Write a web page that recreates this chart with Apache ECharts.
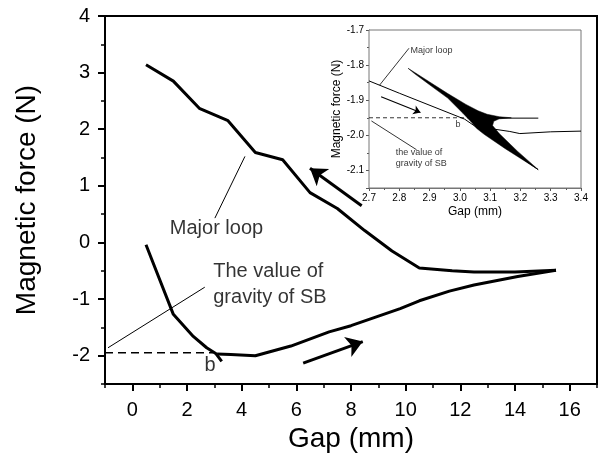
<!DOCTYPE html>
<html>
<head>
<meta charset="utf-8">
<script src="https://cdn.jsdelivr.net/npm/echarts@6/dist/echarts.min.js"></script>
<style>html,body{margin:0;padding:0;background:#fff}#c{width:600px;height:464px}</style>
</head>
<body>
<div id="c"></div>
<script>
// ---------- main chart data ----------
var upperX = [0.5, 1.5, 2.45, 3.5, 4.5, 5.5, 6.5, 7.5, 8.5, 9.5, 10.5, 11.7, 12.5, 14.0, 15.5];
var upperY = [3.14, 2.85, 2.37, 2.15, 1.59, 1.46, 0.88, 0.6, 0.21, -0.15, -0.45, -0.5, -0.52, -0.52, -0.49];
var lowerX = [0.5, 1.5, 2.23, 2.72, 3.05, 3.27];
var lowerY = [-0.04, -1.27, -1.66, -1.86, -1.96, -2.1];
var lower2X = [3.1, 3.6, 4.5, 5.8, 7.2, 8.0, 9.8, 10.5, 11.6, 12.5, 14.1, 15.5];
var lower2Y = [-1.97, -1.98, -2.0, -1.83, -1.58, -1.47, -1.17, -1.03, -0.86, -0.75, -0.6, -0.49];
var gravX = [-1, 2.95];
var gravY = [-1.95, -1.95];
var majPtrX = [4.12, 3.02];
var majPtrY = [1.52, 0.43];
var gravPtrX = [-0.89, 2.65];
var gravPtrY = [-1.86, -0.79];
var arrowUp = [[8.39, 0.65], [6.5, 1.31]];
var arrowDown = [[6.25, -2.13], [8.43, -1.75]];
var mainTexts = ['Major loop', 'The value of', 'gravity of SB', 'b'];
var mainTextX = [1.37, 2.96, 2.96, 2.84];
var mainTextY = [0.24, -0.51, -0.98, -2.175];

// ---------- inset data ----------
var insMajX = [2.7, 2.8, 3.016, 3.259];
var insMajY = [-1.845, -1.88, -1.954, -2.098];
var bandX = [2.829, 2.90, 2.96, 3.02, 3.06, 3.09, 3.13, 3.17, 3.13, 3.112, 3.108, 3.13, 3.19, 3.258, 3.23, 3.15, 3.08, 3.055, 3.04, 3.01, 2.96, 2.90, 2.85, 2.829];
var bandY = [-1.809, -1.848, -1.881, -1.912, -1.930, -1.940, -1.947, -1.950, -1.953, -1.960, -1.972, -1.995, -2.045, -2.097, -2.082, -2.038, -1.997, -1.980, -1.964, -1.937, -1.894, -1.856, -1.824, -1.809];
var convX = [3.12, 3.259];
var convY = [-1.951, -1.951];
var branchX = [3.11, 3.165, 3.198, 3.3, 3.4];
var branchY = [-1.982, -1.989, -1.995, -1.99, -1.988];
var insGravX = [2.7, 3.03];
var insGravY = [-1.95, -1.95];
var insMajPtrX = [2.735, 2.832];
var insMajPtrY = [-1.857, -1.752];
var insGravPtrX = [2.708, 2.857];
var insGravPtrY = [-1.959, -2.041];
var insArrow = [[2.74, -1.89], [2.87, -1.935]];
var insTexts = ['Major loop', 'the value of', 'gravity of SB', 'b'];
var insTextX = [2.837, 2.788, 2.788, 2.994];
var insTextY = [-1.759, -2.049, -2.080, -1.970];

var FONT = "'Liberation Sans', Arial, sans-serif";

function zip(xs, ys) { return xs.map(function (x, i) { return [x, ys[i]]; }); }
function line(xs, ys, xi, yi, w, extra) {
  var s = {
    type: 'line', xAxisIndex: xi, yAxisIndex: yi, data: zip(xs, ys),
    showSymbol: false, symbol: 'none', silent: true, animation: false,
    lineStyle: { color: '#000', width: w }
  };
  if (extra) for (var k in extra) s.lineStyle[k] = extra[k];
  return s;
}
function arrow(coords, xi, yi, w, size) {
  return {
    type: 'lines', coordinateSystem: 'cartesian2d', xAxisIndex: xi, yAxisIndex: yi,
    symbol: ['none', 'arrow'], symbolSize: size, silent: true, animation: false,
    lineStyle: { color: '#000', width: w, opacity: 1, curveness: 0 },
    itemStyle: { color: '#000' },
    data: [{ coords: coords }]
  };
}
function texts(names, xs, ys, xi, yi, fs, pos) {
  return {
    type: 'scatter', xAxisIndex: xi, yAxisIndex: yi, symbolSize: 0, silent: true, animation: false,
    data: names.map(function (n, i) {
      return { name: n, value: [xs[i], ys[i]], label: { position: (n === 'b') ? 'inside' : pos } };
    }),
    label: { show: true, formatter: '{b}', color: '#000', fontSize: fs, fontFamily: FONT, distance: 0 }
  };
}

var chart = echarts.init(document.getElementById('c'), null, { renderer: 'canvas' });
var option = {
  animation: false,
  backgroundColor: '#fff',
  grid: [
    { left: 105, top: 16, right: 3, bottom: 80, show: true, borderColor: '#000', borderWidth: 2, backgroundColor: 'transparent' },
    { left: 369, top: 30, right: 19, bottom: 276, show: true, borderColor: '#777', borderWidth: 1, backgroundColor: '#fff', z: 5 }
  ],
  xAxis: [
    { type: 'value', gridIndex: 0, min: -1, max: 17, splitNumber: 9,
      name: 'Gap (mm)', nameLocation: 'middle', nameGap: 41,
      nameTextStyle: { fontSize: 28, fontFamily: FONT, color: '#000' },
      axisLine: { show: true, onZero: false, lineStyle: { color: '#000', width: 2 } },
      axisTick: { show: true, inside: false, length: 7, lineStyle: { color: '#000', width: 2 } },
      axisLabel: { fontSize: 20, fontFamily: FONT, color: '#000', margin: 16, showMinLabel: false, showMaxLabel: false },
      splitLine: { show: false } },
    { type: 'value', gridIndex: 0, min: -1, max: 17, interval: 1, position: 'bottom', offset: 0,
      axisLine: { show: false, onZero: false },
      axisTick: { show: true, inside: false, length: 4, lineStyle: { color: '#000', width: 1.5 } },
      axisLabel: { show: false }, splitLine: { show: false } },
    { type: 'value', gridIndex: 1, min: 2.7, max: 3.4,
      name: 'Gap (mm)', nameLocation: 'middle', nameGap: 18,
      nameTextStyle: { fontSize: 12, fontFamily: FONT, color: '#000' },
      axisLine: { show: true, onZero: false, lineStyle: { color: '#777', width: 1 } },
      axisTick: { show: true, inside: false, length: 3, lineStyle: { color: '#555', width: 1 } },
      minorTick: { show: true, splitNumber: 2, length: 2, lineStyle: { color: '#555', width: 1 } },
      axisLabel: { fontSize: 10, fontFamily: FONT, color: '#000', margin: 5,
        formatter: function (v) { return v.toFixed(1); } },
      splitLine: { show: false } }
  ],
  yAxis: [
    { type: 'value', gridIndex: 0, min: -2.5, max: 4, splitNumber: 6,
      name: 'Magnetic force (N)', nameLocation: 'middle', nameGap: 64,
      nameTextStyle: { fontSize: 28, fontFamily: FONT, color: '#000' },
      axisLine: { show: true, onZero: false, lineStyle: { color: '#000', width: 2 } },
      axisTick: { show: true, inside: false, length: 7, lineStyle: { color: '#000', width: 2 } },
      axisLabel: { fontSize: 20, fontFamily: FONT, color: '#000', margin: 15, showMinLabel: false },
      splitLine: { show: false } },
    { type: 'value', gridIndex: 0, min: -2.5, max: 4, interval: 0.5, position: 'left', offset: 0,
      axisLine: { show: false, onZero: false },
      axisTick: { show: true, inside: false, length: 4, lineStyle: { color: '#000', width: 1.5 } },
      axisLabel: { show: false }, splitLine: { show: false } },
    { type: 'value', gridIndex: 1, min: -2.15, max: -1.7,
      name: 'Magnetic force (N)', nameLocation: 'middle', nameGap: 20,
      nameTextStyle: { fontSize: 12, fontFamily: FONT, color: '#000' },
      axisLine: { show: true, onZero: false, lineStyle: { color: '#777', width: 1 } },
      axisTick: { show: true, inside: false, length: 3, lineStyle: { color: '#555', width: 1 } },
      minorTick: { show: true, splitNumber: 2, length: 2, lineStyle: { color: '#555', width: 1 } },
      axisLabel: { fontSize: 10, fontFamily: FONT, color: '#000', margin: 5, showMinLabel: false,
        formatter: function (v) { return v.toFixed(1); } },
      splitLine: { show: false } }
  ],
  series: [
    line(upperX, upperY, 0, 0, 3),
    line(lowerX, lowerY, 0, 0, 3),
    line(lower2X, lower2Y, 0, 0, 3),
    line(gravX, gravY, 0, 0, 1.5, { type: [8, 5] }),
    line(majPtrX, majPtrY, 0, 0, 1),
    line(gravPtrX, gravPtrY, 0, 0, 1),
    arrow(arrowUp, 0, 0, 3, 16),
    arrow(arrowDown, 0, 0, 3, 16),
    texts(mainTexts, mainTextX, mainTextY, 0, 0, 20, 'right'),
    // inset
    {
      type: 'custom', xAxisIndex: 2, yAxisIndex: 2, silent: true, animation: false, z: 6,
      data: [[bandX[0], bandY[0]]],
      renderItem: function (params, api) {
        return { type: 'polygon', shape: { points: zip(bandX, bandY).map(function (p) { return api.coord(p); }) },
          style: { fill: '#000', stroke: '#000', lineWidth: 0.5 } };
      }
    },
    Object.assign(line(insMajX, insMajY, 2, 2, 1), { z: 7 }),
    Object.assign(line(convX, convY, 2, 2, 1), { z: 7 }),
    Object.assign(line(branchX, branchY, 2, 2, 1), { z: 7 }),
    Object.assign(line(insGravX, insGravY, 2, 2, 0.8, { type: [4, 3] }), { z: 7 }),
    Object.assign(line(insMajPtrX, insMajPtrY, 2, 2, 0.8), { z: 7 }),
    Object.assign(line(insGravPtrX, insGravPtrY, 2, 2, 0.8), { z: 7 }),
    Object.assign(arrow(insArrow, 2, 2, 1.2, 7), { z: 7 }),
    Object.assign(texts(insTexts, insTextX, insTextY, 2, 2, 9, 'right'), { z: 7 })
  ]
};
chart.setOption(option);
</script>
</body>
</html>
